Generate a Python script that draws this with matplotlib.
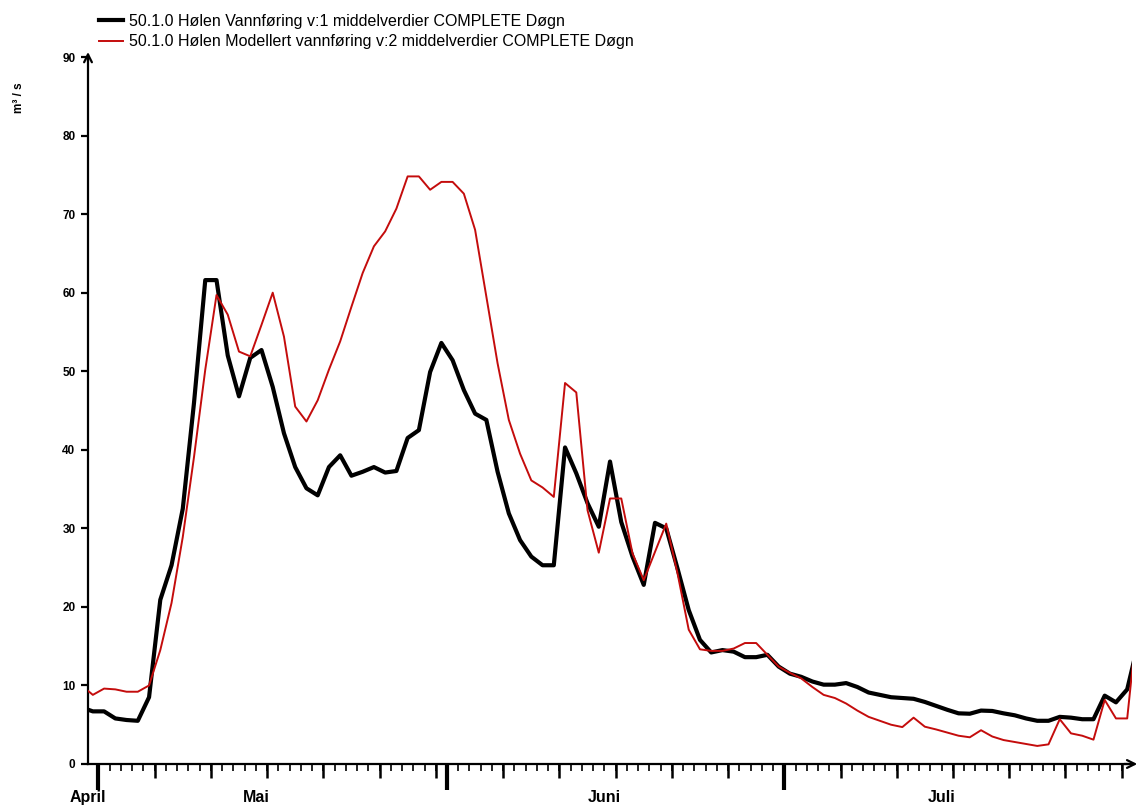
import numpy as np
import matplotlib.pyplot as plt
from matplotlib.transforms import blended_transform_factory

plt.rcParams['font.family'] = ['Liberation Sans Narrow', 'Liberation Sans', 'DejaVu Sans']

# days counted from 1 May 00:00, one value per day (plotted at noon)
days = np.arange(-1, 94) - 0.5

observed = [7.2, 6.7, 6.7, 5.8, 5.6, 5.5, 8.5, 20.9, 25.3, 32.5,
            46.0, 61.6, 61.6, 52.0, 46.8, 51.7, 52.7, 48.0, 42.1, 37.8,
            35.1, 34.2, 37.8, 39.3, 36.7, 37.2, 37.8, 37.1, 37.3, 41.5,
            42.5, 49.9, 53.6, 51.4, 47.6, 44.6, 43.8, 37.2, 31.9, 28.5,
            26.4, 25.3, 25.3, 40.3, 37.0, 33.2, 30.2, 38.5, 30.8, 26.4,
            22.8, 30.7, 30.0, 24.9, 19.6, 15.8, 14.2, 14.5, 14.3, 13.6,
            13.6, 13.9, 12.4, 11.5, 11.1, 10.5, 10.1, 10.1, 10.3, 9.8,
            9.1, 8.8, 8.5, 8.4, 8.3, 7.9, 7.4, 6.9, 6.45, 6.4,
            6.8, 6.75, 6.45, 6.2, 5.8, 5.5, 5.5, 6.0, 5.9, 5.7,
            5.7, 8.7, 7.85, 9.5, 15.5]

modelled = [10.0, 8.8, 9.6, 9.5, 9.2, 9.2, 10.0, 14.5, 20.5, 28.9,
            39.1, 50.2, 59.7, 57.2, 52.5, 51.9, 55.9, 60.0, 54.4, 45.5,
            43.6, 46.3, 50.2, 53.8, 58.2, 62.5, 65.9, 67.8, 70.7, 74.8,
            74.8, 73.1, 74.1, 74.1, 72.6, 68.0, 59.5, 51.0, 43.8, 39.5,
            36.1, 35.2, 34.0, 48.5, 47.3, 32.3, 26.9, 33.8, 33.8, 26.8,
            23.4, 27.0, 30.6, 24.3, 17.1, 14.6, 14.4, 14.4, 14.7, 15.4,
            15.4, 13.9, 12.4, 11.6, 10.9, 9.8, 8.8, 8.4, 7.7, 6.8,
            6.0, 5.5, 5.0, 4.7, 5.9, 4.75, 4.4, 4.0, 3.6, 3.4,
            4.3, 3.5, 3.05, 2.8, 2.55, 2.3, 2.5, 5.7, 3.9, 3.6,
            3.1, 8.15, 5.8, 5.8, 19.5]

month_starts = [0, 31, 61]
month_names = ['April', 'Mai', 'Juni', 'Juli']
month_label_pos = [-0.93, 14, 45, 75]

label_obs = '50.1.0 Hølen Vannføring v:1 middelverdier COMPLETE Døgn'
label_mod = '50.1.0 Hølen Modellert vannføring v:2 middelverdier COMPLETE Døgn'

fig = plt.figure(figsize=(11.41, 8.08), dpi=100)
ax = fig.add_axes([88 / 1141, 44 / 808, 1043.7 / 1141, 707 / 808])

ax.plot(days, observed, color='black', lw=3.0, label=label_obs, zorder=2)
ax.plot(days, modelled, color='#c40c0c', lw=1.4, label=label_mod, zorder=3)

ax.set_xlim(-0.93, 91.9)
ax.set_ylim(0, 90)

for s in ['top', 'right']:
    ax.spines[s].set_visible(False)
for s in ['left', 'bottom']:
    ax.spines[s].set_linewidth(1.6)

ax.set_yticks(range(0, 91, 10))
ax.tick_params(axis='y', direction='out', length=5, width=1.6, labelsize=8.5, pad=4)
for t in ax.get_yticklabels():
    t.set_fontweight('bold')

# month ticks (long), day ticks (short)
ax.set_xticks(month_starts)
ax.set_xticklabels([])
ax.set_xticks(np.arange(0, 92), minor=True)
ax.tick_params(axis='x', which='major', direction='out', length=19, width=3)
ax.tick_params(axis='x', which='minor', direction='out', length=5, width=1.2)

# five-day ticks (medium)
five_day = [m + d for m in month_starts for d in range(5, 31, 5) if m + d < 92 and m + d not in month_starts]
sec = ax.secondary_xaxis('bottom')
sec.spines['bottom'].set_visible(False)
sec.set_xticks(five_day)
sec.set_xticklabels([])
sec.tick_params(axis='x', direction='out', length=10, width=1.8)

trans = blended_transform_factory(ax.transData, ax.transAxes)
for pos, name in zip(month_label_pos, month_names):
    ax.text(pos, -0.047, name, transform=trans, ha='center', va='center',
            fontsize=11.5, fontweight='bold')

# axis arrows
ax.annotate('', xy=(0, 1.011), xytext=(0, 0.99), xycoords='axes fraction',
            arrowprops=dict(arrowstyle='->', lw=1.6, color='black', mutation_scale=14))
ax.annotate('', xy=(1.008, 0), xytext=(0.99, 0), xycoords='axes fraction',
            arrowprops=dict(arrowstyle='->', lw=1.6, color='black', mutation_scale=14))

fig.text(19 / 1141, 1 - 98 / 808, 'm³ / s', rotation=90, ha='center', va='center',
         fontsize=8.5, fontweight='bold')

fig.legend(loc='upper left', bbox_to_anchor=(99 / 1141, 1 - 14 / 808),
           frameon=False, fontsize=11.5, handlelength=1.5, handletextpad=0.38,
           labelspacing=0.33, borderpad=0, borderaxespad=0)

fig.savefig('out.png', dpi=100)
